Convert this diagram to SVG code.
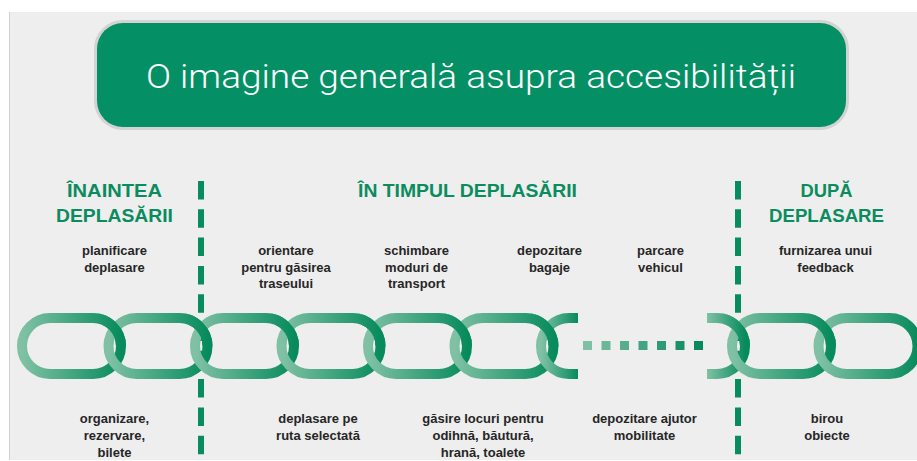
<svg xmlns="http://www.w3.org/2000/svg" xmlns:xlink="http://www.w3.org/1999/xlink" width="917" height="461" viewBox="0 0 917 461">
  <style>
    .hdr { font-family: "Liberation Sans", Arial, sans-serif; font-weight: bold; font-size: 19px; fill: #0a8c5e; text-anchor: middle; }
    .lbl { font-family: "Liberation Sans", Arial, sans-serif; font-weight: bold; font-size: 13px; fill: #262626; text-anchor: middle; }
    .ttl { font-family: Roboto, "Liberation Sans", Arial, sans-serif; font-weight: 300; font-size: 34px; fill: #ffffff; text-anchor: middle; }
    .lnk { fill: none; stroke: url(#g); stroke-width: 10; }
    .div { stroke: #078c5e; stroke-width: 6; stroke-dasharray: 18.5 9.8; fill: none; }
  </style>
  <defs>
    <linearGradient id="g" x1="0" y1="0" x2="1" y2="0">
      <stop offset="0" stop-color="#80c1a5"/>
      <stop offset="1" stop-color="#078b5d"/>
    </linearGradient>
    <path id="link" d="M33,318 H76 A28,28 0 0 1 76,374 H33 A28,28 0 0 1 33,318 Z"/>
    <clipPath id="cTR" clipPathUnits="userSpaceOnUse">
      <rect x="85" y="300" width="30" height="46"/>
    </clipPath>
    <clipPath id="cPR" clipPathUnits="userSpaceOnUse">
      <rect x="724" y="300" width="30" height="46"/>
    </clipPath>
  </defs>

  <g id="background">
    <rect x="9" y="12" width="908" height="448" fill="#eeeeee"/>
    <line x1="9.5" y1="12" x2="9.5" y2="460" stroke="#d2d2d2" stroke-width="1"/>
  </g>

  <g id="title">
    <rect x="97" y="23" width="749" height="104" rx="26" fill="#058f65" stroke="#d3d3d3" stroke-width="6"/>
    <rect x="97" y="23" width="749" height="104" rx="26" fill="#058f65"/>
    <text class="ttl" x="471" y="87.5" textLength="650" lengthAdjust="spacingAndGlyphs">O imagine generală asupra accesibilității</text>
  </g>

  <g id="dividers">
    <line class="div" x1="201" y1="181" x2="201" y2="455"/>
    <line class="div" x1="738" y1="181" x2="738" y2="455"/>
  </g>

  <g id="phase-before">
    <text class="hdr" x="114.5" y="196.5" textLength="95" lengthAdjust="spacingAndGlyphs">ÎNAINTEA</text>
    <text class="hdr" x="114.5" y="221.5" textLength="117" lengthAdjust="spacingAndGlyphs">DEPLASĂRII</text>
  </g>
  <g id="phase-during">
    <text class="hdr" x="467.5" y="196.5" textLength="219" lengthAdjust="spacingAndGlyphs">ÎN TIMPUL DEPLASĂRII</text>
  </g>
  <g id="phase-after">
    <text class="hdr" x="826.5" y="196.5" textLength="52" lengthAdjust="spacingAndGlyphs">DUPĂ</text>
    <text class="hdr" x="826.5" y="221.5" textLength="115" lengthAdjust="spacingAndGlyphs">DEPLASARE</text>
  </g>

  <g id="label-planificare">
    <text class="lbl" x="114.5" y="255">planificare</text>
    <text class="lbl" x="114.5" y="271.5">deplasare</text>
  </g>
  <g id="label-orientare">
    <text class="lbl" x="286" y="255">orientare</text>
    <text class="lbl" x="286" y="271.5">pentru găsirea</text>
    <text class="lbl" x="286" y="288">traseului</text>
  </g>
  <g id="label-schimbare">
    <text class="lbl" x="416.5" y="255">schimbare</text>
    <text class="lbl" x="416.5" y="271.5">moduri de</text>
    <text class="lbl" x="416.5" y="288">transport</text>
  </g>
  <g id="label-bagaje">
    <text class="lbl" x="549.5" y="255">depozitare</text>
    <text class="lbl" x="549.5" y="271.5">bagaje</text>
  </g>
  <g id="label-parcare">
    <text class="lbl" x="660.5" y="255">parcare</text>
    <text class="lbl" x="660.5" y="271.5">vehicul</text>
  </g>
  <g id="label-feedback">
    <text class="lbl" x="825.5" y="255">furnizarea unui</text>
    <text class="lbl" x="825.5" y="271.5">feedback</text>
  </g>

  <g id="label-organizare">
    <text class="lbl" x="114.5" y="423">organizare,</text>
    <text class="lbl" x="114.5" y="440">rezervare,</text>
    <text class="lbl" x="114.5" y="457">bilete</text>
  </g>
  <g id="label-ruta">
    <text class="lbl" x="318" y="423">deplasare pe</text>
    <text class="lbl" x="318" y="440">ruta selectată</text>
  </g>
  <g id="label-odihna">
    <text class="lbl" x="483" y="423">găsire locuri pentru</text>
    <text class="lbl" x="483" y="440">odihnă, băutură,</text>
    <text class="lbl" x="483" y="457">hrană, toalete</text>
  </g>
  <g id="label-mobilitate">
    <text class="lbl" x="644.5" y="423">depozitare ajutor</text>
    <text class="lbl" x="644.5" y="440">mobilitate</text>
  </g>
  <g id="label-birou">
    <text class="lbl" x="827" y="423">birou</text>
    <text class="lbl" x="827" y="440">obiecte</text>
  </g>

  <g id="connectors">
    <use xlink:href="#link" class="lnk" transform="translate(17,0)"/>
    <use xlink:href="#link" class="lnk" transform="translate(103.5,0)"/>
    <use xlink:href="#link" class="lnk" transform="translate(17,0)" clip-path="url(#cTR)"/>
    <use xlink:href="#link" class="lnk" transform="translate(190,0)"/>
    <use xlink:href="#link" class="lnk" transform="translate(103.5,0)" clip-path="url(#cTR)"/>
    <use xlink:href="#link" class="lnk" transform="translate(276.5,0)"/>
    <use xlink:href="#link" class="lnk" transform="translate(190,0)" clip-path="url(#cTR)"/>
    <use xlink:href="#link" class="lnk" transform="translate(363,0)"/>
    <use xlink:href="#link" class="lnk" transform="translate(276.5,0)" clip-path="url(#cTR)"/>
    <use xlink:href="#link" class="lnk" transform="translate(449.5,0)"/>
    <use xlink:href="#link" class="lnk" transform="translate(363,0)" clip-path="url(#cTR)"/>
    <path class="lnk" d="M578,318 H569 A28,28 0 0 0 569,374 H578"/>
    <use xlink:href="#link" class="lnk" transform="translate(449.5,0)" clip-path="url(#cTR)"/>

    <rect x="583" y="341" width="9" height="9" fill="#80c1a5"/>
    <rect x="601.5" y="341" width="9" height="9" fill="#6cb799"/>
    <rect x="620" y="341" width="9" height="9" fill="#57ad8c"/>
    <rect x="638.5" y="341" width="9" height="9" fill="#43a481"/>
    <rect x="657" y="341" width="9" height="9" fill="#2f9a74"/>
    <rect x="675.5" y="341" width="9" height="9" fill="#1b9169"/>
    <rect x="694" y="341" width="9" height="9" fill="#078b5d"/>

    <path id="partial-right" class="lnk" d="M707,318 H717 A28,28 0 0 1 717,374 H707"/>
    <use xlink:href="#link" class="lnk" transform="translate(727,0)"/>
    <path class="lnk" d="M707,318 H717 A28,28 0 0 1 717,374 H707" clip-path="url(#cPR)"/>
    <use xlink:href="#link" class="lnk" transform="translate(813.5,0)"/>
    <use xlink:href="#link" class="lnk" transform="translate(727,0)" clip-path="url(#cTR)"/>
  </g>
</svg>
